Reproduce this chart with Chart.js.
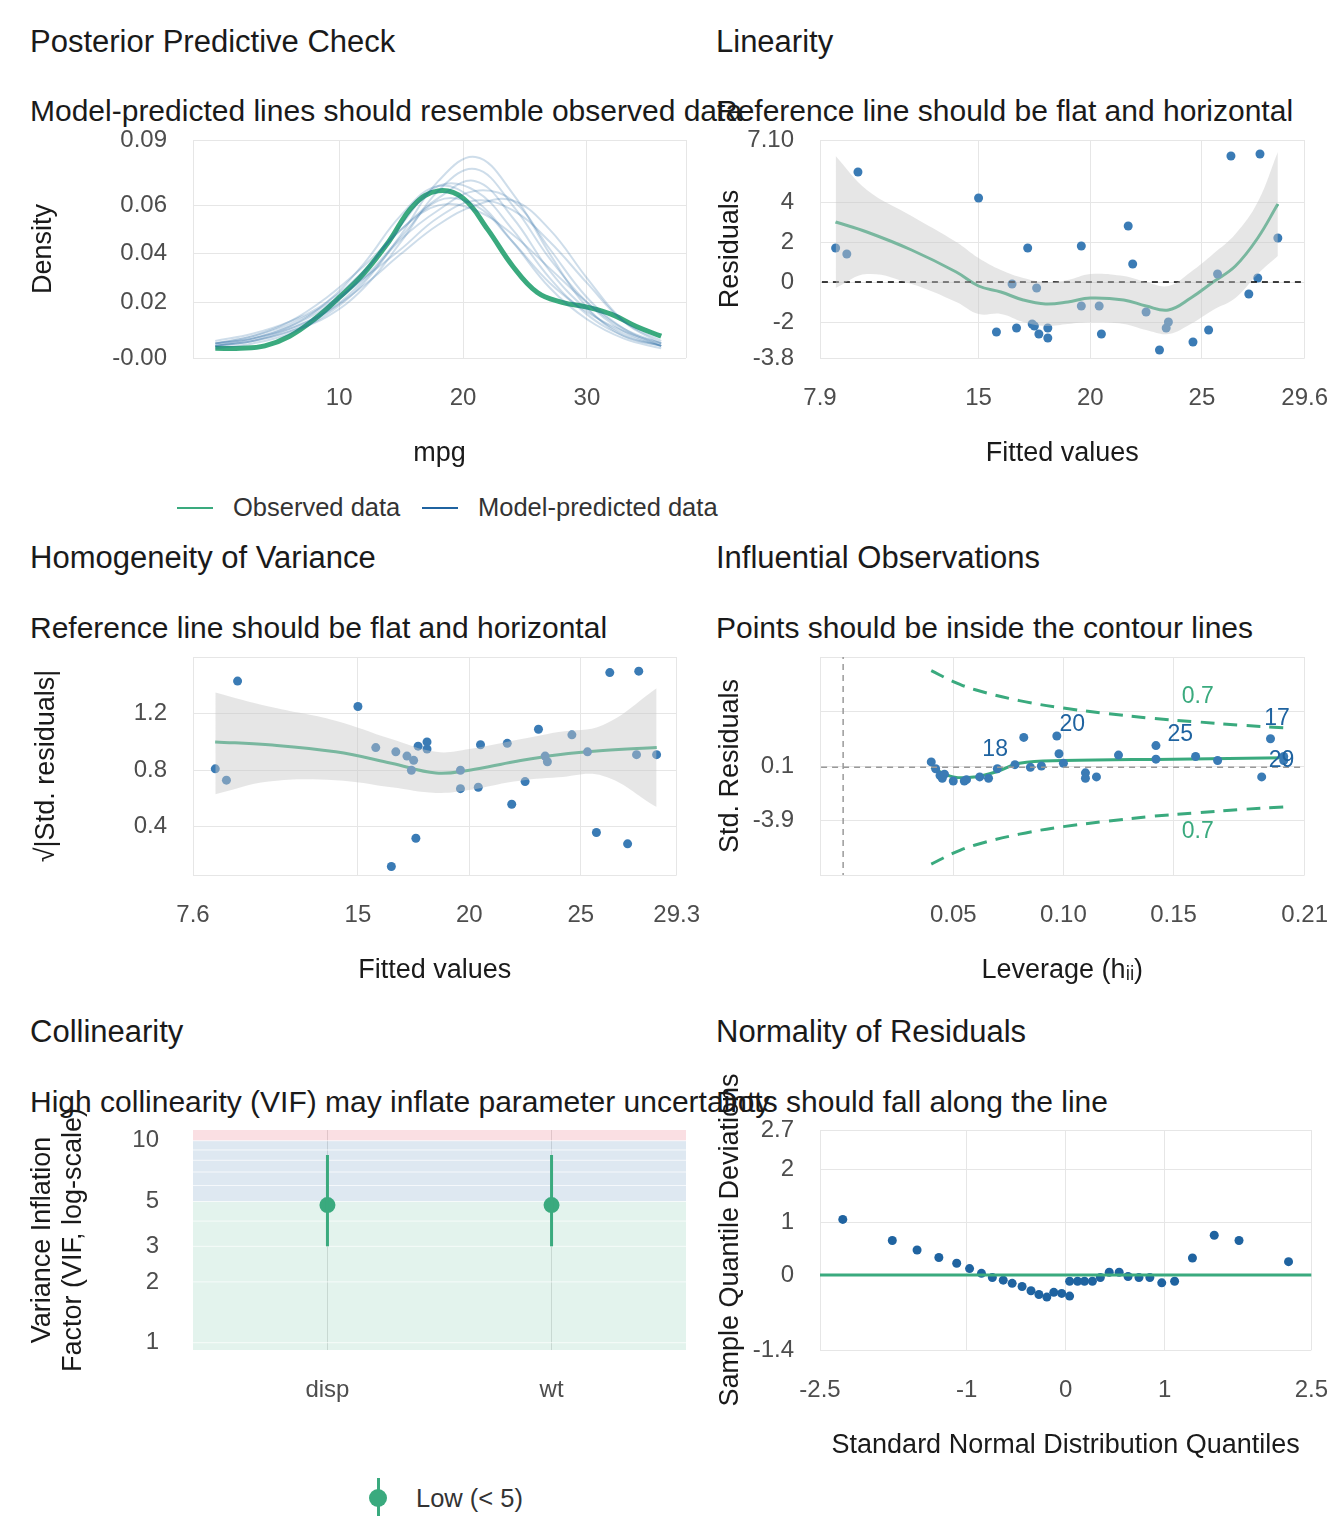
<!DOCTYPE html>
<html><head><meta charset="utf-8">
<script src="https://cdn.jsdelivr.net/npm/chart.js@4.4.0/dist/chart.umd.min.js"></script>
<style>
body{margin:0;background:#fff;width:1344px;height:1536px;position:relative;overflow:hidden;font-family:'Liberation Sans',Arial,sans-serif;color:#1a1a1a}
.t{position:absolute;white-space:nowrap;font-size:31px}
.s{position:absolute;white-space:nowrap;font-size:30px}
.l{position:absolute;white-space:nowrap;font-size:25.5px;color:#333}
canvas{position:absolute}
</style></head><body>
<div class="t" style="left:30px;top:24px">Posterior Predictive Check</div>
<div class="s" style="left:30px;top:94px">Model-predicted lines should resemble observed data</div>
<div class="t" style="left:716px;top:24px">Linearity</div>
<div class="s" style="left:716px;top:94px">Reference line should be flat and horizontal</div>
<div class="t" style="left:30px;top:540px">Homogeneity of Variance</div>
<div class="s" style="left:30px;top:611px">Reference line should be flat and horizontal</div>
<div class="t" style="left:716px;top:540px">Influential Observations</div>
<div class="s" style="left:716px;top:611px">Points should be inside the contour lines</div>
<div class="t" style="left:30px;top:1014px">Collinearity</div>
<div class="s" style="left:30px;top:1085px">High collinearity (VIF) may inflate parameter uncertainty</div>
<div class="t" style="left:716px;top:1014px">Normality of Residuals</div>
<div class="s" style="left:716px;top:1085px">Dots should fall along the line</div>
<div style="position:absolute;left:177px;top:507px;width:36px;height:2px;background:#3aaa7e"></div>
<div class="l" style="left:233px;top:493px">Observed data</div>
<div style="position:absolute;left:422px;top:507px;width:36px;height:2px;background:#1f63a0"></div>
<div class="l" style="left:478px;top:493px">Model-predicted data</div>
<div style="position:absolute;left:377px;top:1478px;width:3px;height:38px;background:#3aaa7e"></div>
<div style="position:absolute;left:369px;top:1489px;width:18px;height:18px;border-radius:50%;background:#3aaa7e"></div>
<div class="l" style="left:416px;top:1484px">Low (&lt; 5)</div>
<script>
// ---------- data ----------
const ppcX=[0,2,4,6,8,10,12,14,16,18,20,22,24,26,28,30,32,34,36];
const ppcObs=[0.001,0.001,0.002,0.006,0.013,0.022,0.032,0.045,0.060,0.066,0.063,0.050,0.035,0.024,0.020,0.018,0.015,0.010,0.006];
const predX=[0,3,6,9,12,15,18,21,24,27,30,33,36];
const predCurves=[
[0.003,0.005,0.010,0.018,0.030,0.047,0.062,0.060,0.045,0.028,0.016,0.008,0.003],
[0.002,0.004,0.008,0.014,0.026,0.045,0.066,0.075,0.060,0.038,0.020,0.008,0.002],
[0.004,0.007,0.012,0.020,0.033,0.050,0.060,0.058,0.048,0.034,0.020,0.009,0.003],
[0.001,0.003,0.007,0.015,0.028,0.048,0.070,0.080,0.065,0.040,0.018,0.006,0.002],
[0.003,0.006,0.011,0.019,0.030,0.042,0.055,0.062,0.058,0.045,0.028,0.012,0.004],
[0.002,0.004,0.009,0.017,0.032,0.052,0.068,0.066,0.050,0.030,0.015,0.006,0.002],
[0.003,0.005,0.009,0.016,0.027,0.040,0.052,0.060,0.062,0.050,0.030,0.012,0.003],
[0.002,0.005,0.010,0.020,0.036,0.056,0.068,0.062,0.045,0.026,0.013,0.005,0.001],
[0.003,0.006,0.012,0.022,0.035,0.050,0.063,0.070,0.055,0.033,0.017,0.007,0.002],
[0.002,0.004,0.008,0.016,0.029,0.046,0.058,0.066,0.062,0.042,0.022,0.009,0.002]];
const fitted=[8.6,9.1,9.6,15.0,15.8,16.5,16.7,17.2,17.4,17.5,17.6,17.7,18.1,18.1,19.6,19.6,20.4,20.5,21.7,21.9,22.5,23.1,23.4,23.5,24.6,25.3,25.7,26.3,27.1,27.5,27.6,28.4];
const resid=[1.7,1.4,5.5,4.2,-2.5,-0.1,-2.3,1.7,-2.1,-2.2,-0.3,-2.6,-2.8,-2.3,1.8,-1.2,-1.2,-2.6,2.8,0.9,-1.5,-3.4,-2.3,-2.0,-3.0,-2.4,0.4,6.3,-0.6,0.2,6.4,2.2];
const linX=[8.6,10,12,14,15,16,17,18,19,20,21.5,22.5,23.5,24.5,25.5,26.5,27.5,28.4];
const linY=[3.0,2.5,1.6,0.5,-0.2,-0.5,-0.9,-1.1,-1.0,-0.8,-0.9,-1.2,-1.4,-0.8,0.0,0.8,2.2,3.9];
const linHi=[6.3,4.6,3.3,2.0,1.2,0.6,0.2,0.0,0.1,0.4,0.3,0.0,-0.2,0.5,1.4,2.4,4.0,6.5];
const linLo=[-0.3,0.4,-0.1,-1.0,-1.6,-1.6,-2.0,-2.2,-2.1,-2.0,-2.1,-2.4,-2.6,-2.1,-1.4,-0.8,0.4,1.3];
const sqrtRes=[0.81,0.73,1.43,1.25,0.96,0.12,0.93,0.90,0.80,0.87,0.32,0.97,0.95,1.00,0.67,0.80,0.68,0.98,0.99,0.56,0.72,1.09,0.90,0.86,1.05,0.93,0.36,1.49,0.28,0.91,1.50,0.91];
const homX=[8.6,11,14,16.5,18.5,20,22,24,26,28.4];
const homY=[1.00,0.98,0.93,0.85,0.78,0.80,0.86,0.91,0.94,0.96];
const homHi=[1.35,1.25,1.15,1.02,0.93,0.95,1.01,1.07,1.12,1.38];
const homLo=[0.63,0.72,0.73,0.68,0.64,0.66,0.72,0.75,0.76,0.54];
const lev=[0.040,0.042,0.044,0.045,0.046,0.050,0.055,0.056,0.062,0.066,0.070,0.078,0.082,0.085,0.090,0.097,0.098,0.100,0.110,0.110,0.115,0.125,0.142,0.142,0.160,0.170,0.190,0.194,0.200,0.200];
const stdRes=[0.4,-0.1,-0.6,-0.8,-0.5,-1.0,-1.0,-0.9,-0.7,-0.8,-0.1,0.2,2.2,0.0,0.1,2.3,1.0,0.3,-0.4,-0.8,-0.7,0.9,1.6,0.6,0.8,0.5,-0.7,2.1,0.8,0.5];
const levLabels=[{h:0.069,r:1.3,t:'18'},{h:0.104,r:3.1,t:'20'},{h:0.153,r:2.4,t:'25'},{h:0.197,r:3.6,t:'17'},{h:0.199,r:0.5,t:'29'}];
const cookH=[0.04,0.05,0.06,0.08,0.10,0.12,0.14,0.16,0.18,0.20];
const cookR=[7.1,6.3,5.7,4.9,4.35,3.95,3.6,3.35,3.1,2.9];
const infX=[0.04,0.05,0.06,0.07,0.08,0.10,0.15,0.20];
const infY=[0.0,-0.7,-0.7,-0.3,0.3,0.5,0.6,0.7];
const vifTerms=['disp','wt'];
const vifVal=[4.8,4.8];
const vifLo=[3.0,3.0];
const vifHi=[8.5,8.5];
const qqX=[-2.25,-1.75,-1.5,-1.28,-1.1,-0.97,-0.85,-0.74,-0.63,-0.54,-0.44,-0.35,-0.27,-0.19,-0.12,-0.04,0.04,0.04,0.12,0.19,0.27,0.35,0.44,0.54,0.63,0.74,0.85,0.97,1.1,1.28,1.5,1.75,2.25];
const qqY=[1.05,0.65,0.47,0.33,0.22,0.12,0.03,-0.05,-0.1,-0.16,-0.22,-0.3,-0.37,-0.42,-0.33,-0.35,-0.4,-0.12,-0.12,-0.12,-0.12,-0.05,0.05,0.05,-0.03,-0.05,-0.05,-0.15,-0.12,0.32,0.75,0.65,0.25];

// ---------- helpers ----------
const GREEN='#3aaa7e', BLUE='#1f63a0', DOT='#3a7bb5';
const F="'Liberation Sans', Arial, sans-serif";
const TF={family:F,size:27}, KF={family:F,size:24};
const pts=(xs,ys)=>xs.map((x,i)=>({x:x,y:ys[i]}));
function ax(o,text){const a=Object.assign({},o);a.title=Object.assign({display:true,text:text,color:'#1a1a1a',font:TF,padding:0},o.title||{});a.ticks=Object.assign({color:'#4d4d4d',font:KF,padding:26},o.ticks||{});return a;}
function panel(plotL,plotT,plotR,plotB,yW,xH,datasets,xs,ys,plugins){
  const padTop=110,padR=40;
  const c=document.createElement('canvas');
  const left=plotL-yW, top=plotT-padTop;
  const w=plotR-left+padR, h=padTop+(plotB-plotT)+xH;
  c.width=w;c.height=h;
  c.style.left=left+'px';c.style.top=top+'px';c.style.width=w+'px';c.style.height=h+'px';
  document.body.appendChild(c);
  const base=(a,isX)=>Object.assign({type:'linear',grid:{color:'#e6e6e6',drawTicks:false},border:{display:false},
    afterFit:s=>{if(isX)s.height=xH;else s.width=yW;}},a);
  new Chart(c,{type:'scatter',data:{datasets:datasets},
    options:{responsive:false,maintainAspectRatio:false,devicePixelRatio:1,animation:false,layout:{padding:{top:padTop,right:padR,left:0,bottom:0}},
      plugins:{legend:{display:false},tooltip:{enabled:false}},
      scales:{x:base(xs,true),y:base(ys,false)}},plugins:plugins||[]});
}
const line=(d,color,wd,extra)=>Object.assign({data:d,showLine:true,pointRadius:0,borderColor:color,borderWidth:wd,fill:false,tension:0.4},extra||{});
const dots=(d,color,r)=>({data:d,showLine:false,pointRadius:r||4.5,backgroundColor:color,borderWidth:0});

// Panel 1
const ds1=predCurves.map(c=>line(pts(predX,c),'rgba(31,99,160,0.22)',2));
ds1.push(line(pts(ppcX,ppcObs),GREEN,5));
panel(193,140,686,358,166,112,ds1,
 ax({min:-1.8,max:38,ticks:{stepSize:10,callback:v=>v%10===0&&v>=0&&v<=30?v:''}},'mpg'),
 ax({min:-0.003,max:0.087,ticks:{stepSize:0.02,callback:v=>v.toFixed(2)}},'Density'));

// Panel 2
panel(820,140,1314,358,106,112,[
 line(pts(linX,linHi),'rgba(0,0,0,0)',0),
 line(pts(linX,linLo),'rgba(0,0,0,0)',0,{fill:'-1',backgroundColor:'rgba(200,200,200,0.45)'}),
 line([{x:7,y:0},{x:30,y:0}],'#000',1.5,{borderDash:[6,5],tension:0}),
 dots(pts(fitted,resid),DOT),
 line(pts(linX,linY),GREEN,3)],
 ax({min:7.9,max:29.6,ticks:{stepSize:5}},'Fitted values'),
 ax({min:-3.8,max:7.1,ticks:{stepSize:2}},'Residuals'));

// Panel 3
panel(193,657,686,875,163,112,[
 line(pts(homX,homHi),'rgba(0,0,0,0)',0),
 line(pts(homX,homLo),'rgba(0,0,0,0)',0,{fill:'-1',backgroundColor:'rgba(200,200,200,0.45)'}),
 dots(pts(fitted,sqrtRes),DOT),
 line(pts(homX,homY),GREEN,3)],
 ax({min:7.6,max:29.3,ticks:{stepSize:5}},'Fitted values'),
 ax({min:0.06,max:1.6,ticks:{stepSize:0.4,callback:v=>(v>0.3&&v<1.5)?v.toFixed(1):''}},'√|Std. residuals|'));

// Panel 4
const labelPlug={id:'lab',afterDatasetsDraw(ch){const x=ch.scales.x,y=ch.scales.y,ctx=ch.ctx;ctx.save();ctx.font='23px '+F;ctx.textAlign='center';ctx.textBaseline='middle';
 ctx.fillStyle=BLUE;levLabels.forEach(l=>ctx.fillText(l.t,x.getPixelForValue(l.h),y.getPixelForValue(l.r)));
 ctx.fillStyle=GREEN;ctx.fillText('0.7',x.getPixelForValue(0.161),y.getPixelForValue(5.2));ctx.fillText('0.7',x.getPixelForValue(0.161),y.getPixelForValue(-4.7));ctx.restore();}};
panel(820,657,1314,875,106,112,[
 line([{x:0,y:-9},{x:0,y:9}],'#999',1.5,{borderDash:[6,5],tension:0}),
 line([{x:-0.02,y:0},{x:0.22,y:0}],'#999',1.5,{borderDash:[6,5],tension:0}),
 line(pts(cookH,cookR),GREEN,3,{borderDash:[14,9]}),
 line(pts(cookH,cookR.map(v=>-v)),GREEN,3,{borderDash:[14,9]}),
 dots(pts(lev,stdRes),DOT),
 line(pts(infX,infY),GREEN,3)],
 ax({min:-0.0105,max:0.2095,ticks:{stepSize:0.05,callback:v=>v>=0?v.toFixed(2):''}},'Leverage (hᵢᵢ)'),
 ax({min:-7.9,max:8.1,ticks:{stepSize:4,callback:v=>Math.abs(v)<=4?v:''}},'Std. Residuals'),[labelPlug]);

// Panel 5
const vifPlug={id:'vif',beforeDatasetsDraw(ch){const y=ch.scales.y,ctx=ch.ctx,a=ch.chartArea;ctx.save();
 const band=(lo,hi,c)=>{ctx.fillStyle=c;const t=y.getPixelForValue(Math.min(hi,y.max)),b=y.getPixelForValue(Math.max(lo,y.min));ctx.fillRect(a.left,t,a.right-a.left,b-t);};
 band(0.5,5,'rgba(58,170,126,0.14)');band(5,10,'rgba(31,99,160,0.15)');band(10,20,'rgba(230,80,100,0.18)');
 ctx.strokeStyle='rgba(255,255,255,0.7)';ctx.lineWidth=1;[1,2,3,4,5,6,7,8,9,10].forEach(v=>{const p=y.getPixelForValue(v);ctx.beginPath();ctx.moveTo(a.left,p);ctx.lineTo(a.right,p);ctx.stroke();});
 ctx.restore();},
 afterDatasetsDraw(ch){const x=ch.scales.x,y=ch.scales.y,ctx=ch.ctx;ctx.save();ctx.strokeStyle=GREEN;ctx.lineWidth=3;
 vifVal.forEach((v,i)=>{const px=x.getPixelForValue(i+1);ctx.beginPath();ctx.moveTo(px,y.getPixelForValue(vifLo[i]));ctx.lineTo(px,y.getPixelForValue(vifHi[i]));ctx.stroke();});ctx.restore();}};
panel(193,1130,686,1350,166,112,[
 {data:vifVal.map((v,i)=>({x:i+1,y:v})),showLine:false,pointRadius:8,backgroundColor:GREEN,borderWidth:0}],
 ax({min:0.4,max:2.6,grid:{color:'#e0e0e0',drawTicks:false},afterBuildTicks:s=>{s.ticks=[{value:1},{value:2}];},ticks:{callback:v=>vifTerms[v-1]||''}},''),
 ax({type:'logarithmic',min:0.92,max:11.3,grid:{display:false},afterBuildTicks:s=>{s.ticks=[1,2,3,5,10].map(v=>({value:v}));},title:{font:{family:F,size:27,lineHeight:1.15}},ticks:{callback:v=>String(v)}},['Variance Inflation','Factor (VIF, log-scale)']),[vifPlug]);

// Panel 6
panel(820,1130,1314,1350,106,112,[
 line([{x:-3,y:0},{x:3,y:0}],GREEN,3,{tension:0}),
 dots(pts(qqX,qqY),BLUE,4.5)],
 ax({min:-2.48,max:2.48,ticks:{stepSize:1}},'Standard Normal Distribution Quantiles'),
 ax({min:-1.42,max:2.74,ticks:{stepSize:1}},'Sample Quantile Deviations'));
</script></body></html>
